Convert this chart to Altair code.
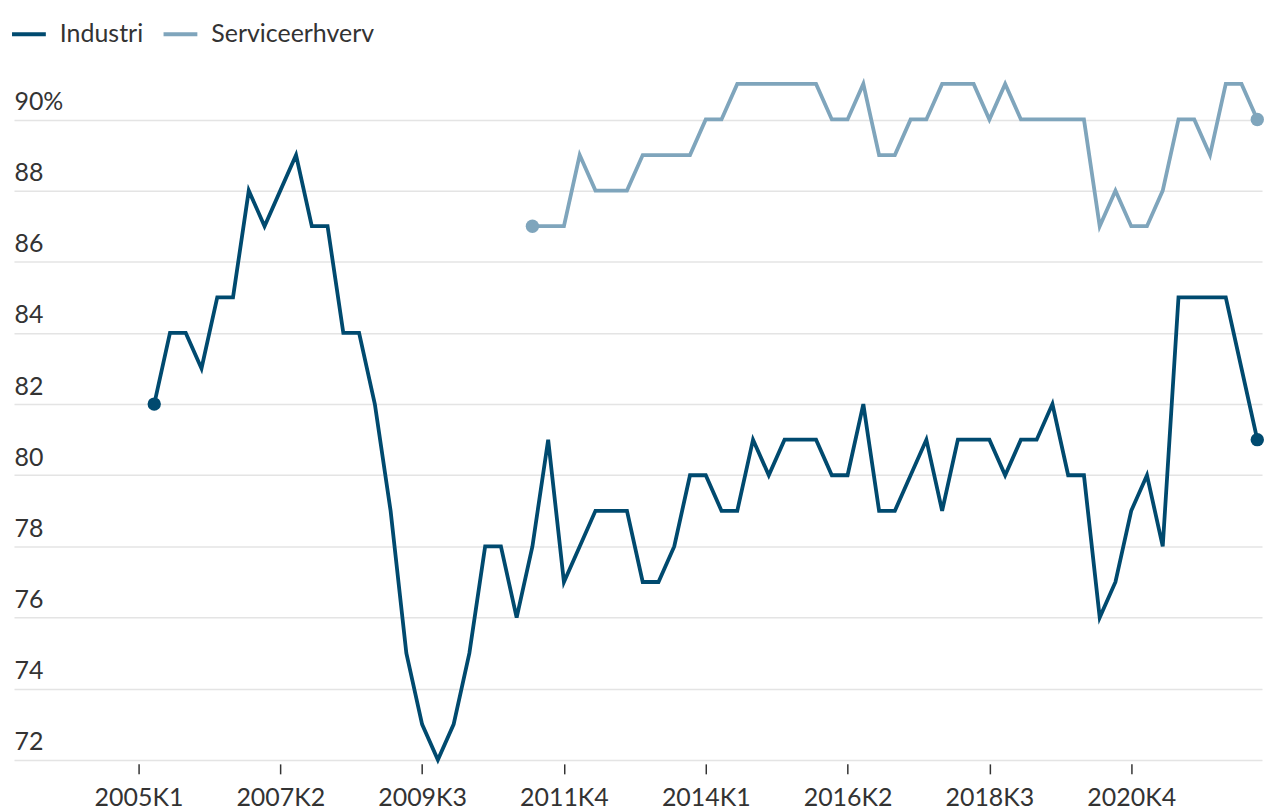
import altair as alt
import pandas as pd

# quarter index 0 = 2005K1
industri_start = 1   # 2005K2
industri = [82, 84, 84, 83, 85, 85, 88, 87, 88, 89, 87, 87, 84, 84, 82, 79, 75, 73, 72, 73,
            75, 78, 78, 76, 78, 81, 77, 78, 79, 79, 79, 77, 77, 78, 80, 80, 79, 79, 81, 80,
            81, 81, 81, 80, 80, 82, 79, 79, 80, 81, 79, 81, 81, 81, 80, 81, 81, 82, 80, 80,
            76, 77, 79, 80, 78, 85, 85, 85, 85, 83, 81]
service_start = 25   # 2011K2
service = [87, 87, 87, 89, 88, 88, 88, 89, 89, 89, 89, 90, 90, 91, 91, 91, 91, 91, 91, 90,
           90, 91, 89, 89, 90, 90, 91, 91, 91, 90, 91, 90, 90, 90, 90, 90, 87, 88, 87, 87,
           88, 90, 90, 89, 91, 91, 90]

tick_idx = [0, 9, 18, 27, 36, 45, 54, 63]
tick_labels = ["2005K1", "2007K2", "2009K3", "2011K4", "2014K1", "2016K2", "2018K3", "2020K4"]
y_ticks = [72, 74, 76, 78, 80, 82, 84, 86, 88, 90]

series_names = ["Industri", "Serviceerhverv"]
colors = ["#004a6f", "#7fa5bc"]

rows = []
for i, v in enumerate(industri):
    rows.append({"idx": industri_start + i, "value": v, "serie": "Industri"})
for i, v in enumerate(service):
    rows.append({"idx": service_start + i, "value": v, "serie": "Serviceerhverv"})
df = pd.DataFrame(rows)

ends = pd.concat([
    df[df.serie == s].iloc[[0, -1]] for s in series_names
])

label_map = "{" + ",".join(f"'{k}':'{v}'" for k, v in zip(tick_idx, tick_labels)) + "}"

FONT = "Lato"
FS = 25

x_enc = alt.X("idx:Q",
              scale=alt.Scale(domain=[-7.9, 71.3], nice=False, zero=False),
              axis=alt.Axis(values=tick_idx, labelExpr=f"{label_map}[toString(datum.value)]",
                            grid=False, domain=False, ticks=True, tickSize=10, tickWidth=1.5,
                            tickColor="#333333", offset=4, labelPadding=12,
                            labelFontSize=FS, labelFont=FONT, labelColor="#333333", title=None))
y_enc = alt.Y("value:Q",
              scale=alt.Scale(domain=[72, 91.5], nice=False, zero=False),
              axis=alt.Axis(values=y_ticks, labelExpr="datum.value == 90 ? '90%' : datum.label",
                            grid=True, gridColor="#e4e4e4", gridWidth=1.5, domain=False,
                            ticks=False, labelAlign="left", labelBaseline="alphabetic",
                            labelPadding=0, labelOffset=-10, labelFontSize=FS, labelFont=FONT,
                            labelColor="#333333", title=None))
color_enc = alt.Color("serie:N",
                      scale=alt.Scale(domain=series_names, range=colors),
                      legend=alt.Legend(title=None, orient="none", legendX=-4, legendY=-51,
                                        direction="horizontal", symbolType="stroke",
                                        symbolSize=1150, symbolStrokeWidth=4,
                                        labelFontSize=FS, labelFont=FONT, labelColor="#333333",
                                        labelOffset=12, columnPadding=12, labelLimit=400))

lines = alt.Chart(df).mark_line(strokeWidth=3.8).encode(x=x_enc, y=y_enc, color=color_enc)
dots = alt.Chart(ends).mark_circle(size=180, opacity=1).encode(
    x="idx:Q", y="value:Q",
    color=alt.Color("serie:N", scale=alt.Scale(domain=series_names, range=colors), legend=None))

chart = alt.layer(lines, dots).properties(
    width=1252, height=696,
    padding={"left": 2, "top": 6, "right": 0, "bottom": 0}
).configure_view(stroke=None)

chart.save("out.html", embed_options={"renderer": "svg", "actions": False})
